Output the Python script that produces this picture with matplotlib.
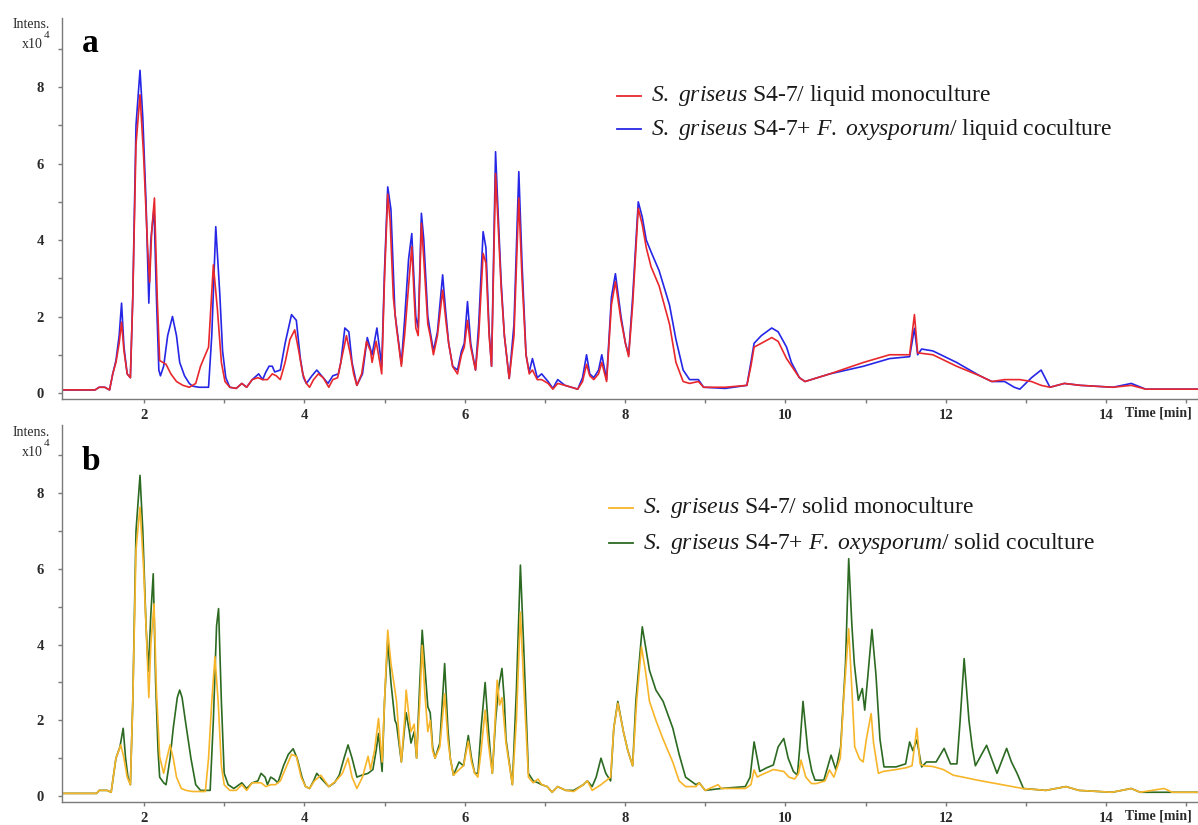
import matplotlib
matplotlib.use("Agg")
import matplotlib.pyplot as plt
from matplotlib.lines import Line2D

# ---------------------------------------------------------------- data
# Retention time [min] and intensity [x10^4] for each chromatogram trace.

# (a) liquid cultures
t_liq_mono = [0.95, 1.39, 1.44, 1.51, 1.57, 1.61, 1.65, 1.69, 1.72, 1.75, 1.79, 1.83, 1.86, 1.90, 1.95,
              1.995, 2.045, 2.07, 2.095, 2.13, 2.165, 2.195, 2.235, 2.275, 2.335, 2.405, 2.485, 2.565,
              2.645, 2.705, 2.765, 2.805, 2.865, 2.915, 2.965, 3.01, 3.07, 3.15, 3.22, 3.28, 3.35, 3.42,
              3.48, 3.54, 3.60, 3.65, 3.70, 3.76, 3.82, 3.88, 3.93, 3.98, 4.025, 4.065, 4.115, 4.175,
              4.235, 4.305, 4.355, 4.415, 4.475, 4.525, 4.575, 4.615, 4.655, 4.715, 4.775, 4.825, 4.845,
              4.895, 4.925, 4.965, 5.00, 5.04, 5.07, 5.11, 5.15, 5.21, 5.25, 5.30, 5.34, 5.37, 5.39,
              5.42, 5.46, 5.49, 5.54, 5.57, 5.61, 5.66, 5.725, 5.77, 5.80, 5.85, 5.91, 5.96, 5.995,
              6.035, 6.075, 6.135, 6.175, 6.23, 6.265, 6.305, 6.335, 6.385, 6.415, 6.455, 6.495, 6.555,
              6.615, 6.675, 6.715, 6.765, 6.805, 6.845, 6.905, 6.96, 7.04, 7.10, 7.16, 7.25, 7.41,
              7.47, 7.52, 7.56, 7.61, 7.67, 7.71, 7.77, 7.83, 7.88, 7.95, 8.005, 8.045, 8.095, 8.165,
              8.215, 8.265, 8.325, 8.425, 8.555, 8.635, 8.725, 8.805, 8.915, 8.98, 9.25, 9.52, 9.57,
              9.61, 9.70, 9.83, 9.91, 10.015, 10.175, 10.245, 10.555, 10.975, 11.30, 11.55, 11.61,
              11.65, 11.84, 12.135, 12.425, 12.575, 12.735, 12.925, 13.07, 13.19, 13.30, 13.48, 13.68,
              14.085, 14.315, 14.495, 15.2]
i_liq_mono = [0.08, 0.08, 0.15, 0.15, 0.08, 0.5, 0.8, 1.3, 1.85, 1.1, 0.5, 0.4, 2.5, 6.5, 7.8,
              6.2, 3.8, 2.9, 4.2, 5.1, 2.5, 0.85, 0.8, 0.75, 0.5, 0.3, 0.2, 0.15,
              0.25, 0.7, 1.0, 1.2, 3.35, 2.2, 0.8, 0.3, 0.15, 0.12, 0.25, 0.15, 0.35, 0.4,
              0.35, 0.35, 0.5, 0.45, 0.35, 0.8, 1.4, 1.65, 1.1, 0.5, 0.25, 0.15, 0.35, 0.5,
              0.4, 0.15, 0.35, 0.4, 1.0, 1.5, 1.0, 0.5, 0.2, 0.5, 1.35, 1.1, 0.8,
              1.35, 1.0, 0.5, 3.0, 5.2, 4.5, 2.5, 1.7, 0.7, 1.5, 2.8, 3.83, 2.5, 1.7,
              1.5, 4.44, 3.5, 1.8, 1.5, 1.0, 1.5, 2.69, 1.8, 1.3, 0.69, 0.5, 1.0, 1.2,
              1.9, 1.2, 0.6, 1.5, 3.65, 3.4, 1.5, 0.7, 5.74, 4.5, 2.75, 1.5, 0.38,
              1.5, 5.1, 3.0, 1.0, 0.5, 0.6, 0.35, 0.35, 0.25, 0.1, 0.25, 0.2, 0.1,
              0.3, 0.75, 0.45, 0.35, 0.5, 0.8, 0.3, 2.3, 2.91, 1.9, 1.3, 0.95, 2.3, 4.83,
              4.4, 3.8, 3.3, 2.8, 1.8, 0.8, 0.3, 0.25, 0.3, 0.15, 0.15, 0.2, 0.7,
              1.2, 1.3, 1.45, 1.35, 0.9, 0.4, 0.3, 0.5, 0.8, 1.0, 1.0, 2.05,
              1.05, 1.0, 0.7, 0.45, 0.3, 0.35, 0.35, 0.3, 0.2, 0.15, 0.25, 0.2,
              0.15, 0.2, 0.1, 0.1]

t_liq_co = [0.95, 1.39, 1.44, 1.51, 1.57, 1.61, 1.65, 1.69, 1.72, 1.75, 1.79, 1.83, 1.86, 1.90, 1.95,
            1.985, 2.025, 2.06, 2.085, 2.125, 2.155, 2.185, 2.205, 2.245, 2.295, 2.355, 2.405, 2.445,
            2.505, 2.565, 2.605, 2.685, 2.775, 2.805, 2.845, 2.895, 2.945, 2.98, 3.02, 3.07, 3.15,
            3.22, 3.28, 3.35, 3.43, 3.48, 3.52, 3.56, 3.60, 3.63, 3.70, 3.76, 3.84, 3.90, 3.95, 3.99,
            4.025, 4.095, 4.155, 4.215, 4.295, 4.355, 4.425, 4.455, 4.505, 4.555, 4.595, 4.655,
            4.725, 4.785, 4.845, 4.905, 4.965, 5.00, 5.04, 5.08, 5.13, 5.21, 5.25, 5.30, 5.34, 5.39,
            5.42, 5.46, 5.49, 5.54, 5.57, 5.61, 5.66, 5.725, 5.76, 5.80, 5.85, 5.91, 5.96, 5.995,
            6.035, 6.075, 6.135, 6.175, 6.23, 6.265, 6.305, 6.335, 6.385, 6.415, 6.455, 6.495,
            6.555, 6.615, 6.675, 6.715, 6.765, 6.805, 6.845, 6.905, 6.96, 7.04, 7.10, 7.16, 7.25,
            7.41, 7.47, 7.52, 7.56, 7.61, 7.67, 7.71, 7.77, 7.83, 7.88, 7.95, 8.005, 8.045, 8.095,
            8.165, 8.215, 8.265, 8.325, 8.425, 8.555, 8.635, 8.725, 8.805, 8.915, 8.98, 9.25, 9.52,
            9.57, 9.61, 9.70, 9.83, 9.91, 10.015, 10.075, 10.175, 10.245, 10.555, 10.975, 11.30,
            11.55, 11.61, 11.65, 11.70, 11.84, 12.135, 12.425, 12.575, 12.735, 12.855, 12.925,
            13.07, 13.19, 13.30, 13.48, 13.68, 14.085, 14.315, 14.495, 15.2]
i_liq_co = [0.08, 0.08, 0.15, 0.15, 0.08, 0.5, 0.85, 1.5, 2.35, 1.2, 0.5, 0.4, 2.5, 7.0, 8.44,
            7.2, 5.0, 2.35, 4.0, 4.83, 2.5, 0.6, 0.45, 0.7, 1.5, 2.0, 1.5, 0.8,
            0.45, 0.25, 0.18, 0.15, 0.15, 0.15, 1.5, 4.35, 2.6, 1.1, 0.4, 0.15, 0.12,
            0.25, 0.15, 0.35, 0.5, 0.35, 0.55, 0.7, 0.7, 0.55, 0.6, 1.3, 2.05, 1.9, 0.9, 0.4,
            0.25, 0.45, 0.6, 0.45, 0.25, 0.45, 0.5, 0.8, 1.7, 1.6, 0.8, 0.2,
            0.5, 1.45, 1.0, 1.7, 0.7, 3.2, 5.39, 4.8, 2.08, 0.77, 1.9, 3.5, 4.17, 2.0,
            1.7, 4.7, 4.0, 2.0, 1.6, 1.1, 1.6, 3.09, 2.2, 1.3, 0.7, 0.6, 1.1, 1.3,
            2.39, 1.3, 0.6, 1.8, 4.22, 3.8, 1.6, 0.7, 6.31, 4.8, 2.9, 1.5,
            0.38, 1.8, 5.79, 3.4, 1.0, 0.55, 0.9, 0.4, 0.5, 0.3, 0.12, 0.35, 0.2,
            0.1, 0.4, 1.0, 0.5, 0.4, 0.6, 1.0, 0.35, 2.5, 3.12, 2.0, 1.3, 1.0, 2.5,
            5.0, 4.6, 4.0, 3.69, 3.2, 2.3, 1.4, 0.6, 0.35, 0.35, 0.15, 0.12, 0.2,
            0.8, 1.3, 1.5, 1.7, 1.6, 1.2, 0.8, 0.4, 0.3, 0.5, 0.7, 0.9,
            0.95, 1.69, 1.0, 1.15, 1.1, 0.8, 0.45, 0.3, 0.3, 0.15, 0.1,
            0.4, 0.6, 0.15, 0.25, 0.2, 0.15, 0.25, 0.1, 0.1]

# (b) solid cultures
t_sol_mono = [0.95, 1.41, 1.44, 1.54, 1.59, 1.65, 1.71, 1.75, 1.79, 1.83, 1.86, 1.90, 1.95, 1.995,
              2.035, 2.06, 2.085, 2.125, 2.155, 2.195, 2.245, 2.285, 2.325, 2.365, 2.405, 2.465,
              2.525, 2.605, 2.685, 2.765, 2.805, 2.845, 2.885, 2.925, 2.965, 3.00, 3.07, 3.15, 3.22,
              3.28, 3.35, 3.46, 3.52, 3.58, 3.64, 3.70, 3.78, 3.84, 3.90, 3.96, 4.015, 4.065, 4.125,
              4.205, 4.255, 4.305, 4.395, 4.475, 4.545, 4.595, 4.655, 4.725, 4.795, 4.825, 4.875,
              4.925, 4.97, 5.00, 5.04, 5.08, 5.13, 5.15, 5.18, 5.21, 5.25, 5.27, 5.31, 5.33, 5.37,
              5.40, 5.44, 5.47, 5.50, 5.54, 5.57, 5.60, 5.63, 5.69, 5.75, 5.79, 5.82, 5.86, 5.93,
              5.985, 6.045, 6.085, 6.125, 6.165, 6.205, 6.255, 6.295, 6.325, 6.345, 6.375, 6.405,
              6.435, 6.465, 6.515, 6.595, 6.645, 6.695, 6.735, 6.795, 6.855, 6.915, 6.96, 7.03,
              7.09, 7.16, 7.26, 7.36, 7.48, 7.53, 7.59, 7.70, 7.82, 7.86, 7.91, 7.98, 8.035, 8.095,
              8.145, 8.205, 8.255, 8.305, 8.385, 8.475, 8.595, 8.675, 8.755, 8.885, 8.925, 9.00,
              9.16, 9.20, 9.50, 9.57, 9.61, 9.65, 9.69, 9.85, 9.98, 10.045, 10.115, 10.165, 10.195,
              10.255, 10.325, 10.385, 10.495, 10.55, 10.605, 10.685, 10.725, 10.79, 10.825,
              10.865, 10.925, 10.97, 11.01, 11.07, 11.10, 11.16, 11.22, 11.38, 11.51, 11.58, 11.64,
              11.68, 11.72, 11.84, 11.97, 12.095, 12.215, 12.395, 12.625, 12.755, 12.96, 13.25,
              13.50, 13.66, 14.075, 14.315, 14.425, 14.725, 14.825, 15.2]
i_sol_mono = [0.07, 0.07, 0.15, 0.15, 0.1, 1.0, 1.35, 1.0, 0.5, 0.3, 2.5, 6.5, 7.63, 6.0,
              4.0, 2.6, 4.0, 5.08, 2.8, 1.04, 0.6, 1.0, 1.35, 1.0, 0.5, 0.2,
              0.15, 0.12, 0.12, 0.12, 1.0, 2.5, 3.68, 2.5, 0.8, 0.3, 0.15, 0.15, 0.3,
              0.15, 0.35, 0.35, 0.25, 0.3, 0.3, 0.4, 0.8, 1.1, 1.05, 0.5, 0.25, 0.2, 0.4,
              0.55, 0.4, 0.25, 0.4, 0.6, 1.0, 0.5, 0.2, 0.5, 1.05, 0.7, 1.2,
              2.05, 0.9, 2.5, 4.38, 3.5, 2.8, 2.5, 1.6, 0.9, 2.0, 2.8, 2.0, 1.7, 1.9,
              1.0, 2.5, 3.98, 2.8, 1.7, 2.0, 1.2, 1.0, 1.3, 2.7, 1.5, 1.0, 0.55, 0.7,
              0.8, 1.45, 0.9, 0.6, 0.5, 1.2, 2.27, 1.4, 0.9, 0.6, 1.8, 3.06,
              2.4, 2.6, 1.4, 0.3, 2.0, 4.86, 3.0, 0.5, 0.35, 0.45, 0.3, 0.25,
              0.1, 0.25, 0.15, 0.12, 0.3, 0.4, 0.15, 0.3, 0.5, 1.8, 2.45, 1.7, 1.2, 0.8,
              2.5, 3.94, 3.3, 2.5, 2.0, 1.5, 0.9, 0.4, 0.25, 0.25, 0.35, 0.15,
              0.3, 0.2, 0.2, 0.3, 0.69, 0.5, 0.55, 0.7, 0.65, 0.5, 0.45, 0.6, 0.95,
              0.5, 0.33, 0.33, 0.4, 0.69, 0.5, 1.0, 2.5, 4.42, 3.0,
              1.3, 0.98, 0.9, 1.5, 2.18, 1.4, 0.6, 0.65, 0.7, 0.75, 0.8, 1.79,
              0.85, 0.8, 0.78, 0.7, 0.55, 0.5, 0.42, 0.33, 0.28, 0.2, 0.15,
              0.25, 0.15, 0.1, 0.2, 0.1, 0.2, 0.1, 0.1]

t_sol_co = [0.95, 1.41, 1.44, 1.54, 1.59, 1.65, 1.70, 1.74, 1.77, 1.80, 1.83, 1.86, 1.90, 1.95,
            1.985, 2.025, 2.055, 2.085, 2.115, 2.145, 2.175, 2.195, 2.245, 2.275, 2.325, 2.365,
            2.415, 2.445, 2.475, 2.515, 2.585, 2.645, 2.705, 2.825, 2.865, 2.905, 2.93, 2.965,
            3.00, 3.05, 3.12, 3.22, 3.28, 3.35, 3.42, 3.46, 3.51, 3.54, 3.58, 3.62, 3.67, 3.74,
            3.80, 3.86, 3.91, 3.97, 4.015, 4.065, 4.115, 4.155, 4.215, 4.305, 4.375, 4.435, 4.495,
            4.545, 4.595, 4.655, 4.715, 4.795, 4.855, 4.895, 4.925, 4.97, 5.00, 5.04, 5.08, 5.13,
            5.15, 5.21, 5.25, 5.27, 5.31, 5.33, 5.37, 5.40, 5.44, 5.47, 5.50, 5.54, 5.57, 5.60,
            5.63, 5.69, 5.75, 5.79, 5.82, 5.86, 5.93, 5.985, 6.045, 6.085, 6.125, 6.165, 6.205,
            6.255, 6.295, 6.325, 6.345, 6.385, 6.425, 6.465, 6.495, 6.515, 6.595, 6.645, 6.695,
            6.735, 6.795, 6.855, 6.915, 6.96, 7.03, 7.09, 7.16, 7.26, 7.36, 7.48, 7.53, 7.59, 7.64,
            7.70, 7.76, 7.82, 7.86, 7.91, 7.98, 8.035, 8.095, 8.135, 8.215, 8.305, 8.385, 8.475,
            8.595, 8.675, 8.755, 8.885, 8.925, 9.00, 9.20, 9.50, 9.56, 9.61, 9.68, 9.77,
            9.85, 9.91, 9.98, 10.035, 10.10, 10.15, 10.18, 10.22, 10.28, 10.33, 10.37,
            10.48, 10.57, 10.63, 10.69, 10.75, 10.79, 10.83, 10.86, 10.91,
            10.96, 10.99, 11.03, 11.08, 11.13, 11.18, 11.23, 11.38, 11.50, 11.55, 11.59, 11.64,
            11.70, 11.76, 11.88, 11.98, 12.06, 12.14, 12.18, 12.23, 12.29, 12.33, 12.37,
            12.51, 12.57, 12.64, 12.76, 12.82, 12.89, 12.97, 13.25, 13.50, 13.66, 14.075,
            14.315, 14.425, 14.725, 15.2]
i_sol_co = [0.07, 0.07, 0.15, 0.15, 0.1, 1.0, 1.3, 1.79, 1.0, 0.5, 0.3, 2.5, 7.0, 8.47,
            7.0, 4.5, 3.3, 4.8, 5.87, 3.0, 1.2, 0.5, 0.35, 0.3, 1.0, 1.8,
            2.6, 2.8, 2.6, 2.0, 1.0, 0.3, 0.15, 0.15, 2.0, 4.5, 4.95, 2.5,
            0.6, 0.3, 0.2, 0.35, 0.2, 0.35, 0.4, 0.6, 0.5, 0.3, 0.5, 0.45, 0.35, 0.8,
            1.1, 1.25, 1.0, 0.5, 0.25, 0.2, 0.4, 0.6, 0.45, 0.25, 0.35, 0.55, 1.0,
            1.35, 1.0, 0.5, 0.55, 0.6, 0.7, 1.2, 1.65, 0.65, 2.5, 4.12, 3.0, 2.0,
            1.9, 0.9, 1.8, 2.2, 1.7, 1.4, 1.7, 1.0, 3.0, 4.38, 3.5, 2.36, 2.2, 1.3,
            1.0, 1.4, 3.5, 1.8, 1.0, 0.55, 0.9, 0.8, 1.6, 1.0, 0.6, 0.6, 1.8,
            3.0, 1.8, 1.0, 0.6, 2.0, 2.9, 3.37, 2.5, 1.5, 0.3, 2.8, 6.1,
            4.0, 0.6, 0.4, 0.35, 0.3, 0.25, 0.1, 0.25, 0.15, 0.15, 0.3, 0.4, 0.25, 0.5,
            1.0, 0.6, 0.4, 1.8, 2.5, 1.7, 1.2, 0.8, 2.5, 4.47, 3.32, 2.8, 2.5,
            1.8, 1.1, 0.5, 0.3, 0.35, 0.15, 0.2, 0.25, 0.5, 1.43, 0.65, 0.75,
            0.82, 1.3, 1.52, 1.0, 0.65, 0.55, 1.3, 2.5, 1.2, 0.66, 0.42,
            0.42, 1.08, 0.7, 1.3, 3.5, 6.27, 4.5, 3.5, 2.53,
            2.84, 2.27, 3.2, 4.4, 3.2, 1.5, 0.77, 0.77, 0.85, 1.43, 1.2, 1.48,
            0.77, 0.9, 0.9, 1.26, 0.85, 0.85, 2.0, 3.63, 2.0, 1.3, 0.8,
            1.34, 1.0, 0.6, 1.26, 0.9, 0.6, 0.2, 0.15, 0.25, 0.15, 0.1,
            0.2, 0.1, 0.1, 0.1]

x_major = [2, 4, 6, 8, 10, 12, 14]
y_major = [0, 2, 4, 6, 8]

# ---------------------------------------------------------------- style
W, H = 1198, 825
SERIF = ["Liberation Serif", "DejaVu Serif"]
plt.rcParams["font.family"] = SERIF
plt.rcParams["mathtext.fontset"] = "custom"
plt.rcParams["mathtext.rm"] = "Liberation Serif"
plt.rcParams["mathtext.it"] = "Liberation Serif:italic"

RED = "#e8282c"
BLUE = "#2626e6"
ORANGE = "#f7b52a"
GREEN = "#2c6a22"
AXIS = "#7a7a7a"
TICKTXT = "#2a2a2a"

fig = plt.figure(figsize=(W / 100, H / 100), dpi=100)


def px_x(x):
    return x / W


def px_y(y):
    return 1 - y / H


def make_axes(top_px, bottom_px):
    left = px_x(62)
    ax = fig.add_axes([left, px_y(bottom_px), 1 - left, (bottom_px - top_px) / H])
    ax.set_xlim(0.977, 15.147)
    ax.set_ylim(-0.165, 9.8)
    for side in ("top", "right"):
        ax.spines[side].set_visible(False)
    for side in ("left", "bottom"):
        ax.spines[side].set_color(AXIS)
        ax.spines[side].set_linewidth(1.0)
    ax.set_xticks(x_major)
    ax.set_xticks([3, 5, 7, 9, 11, 13, 15], minor=True)
    ax.set_yticks(y_major)
    ax.set_yticks([1, 3, 5, 7, 9], minor=True)
    ax.tick_params(which="both", direction="out", length=3, width=1, color=AXIS)
    ax.tick_params(axis="x", which="major", pad=4, labelsize=10.5, labelcolor=TICKTXT)
    ax.tick_params(axis="y", which="major", pad=10, labelsize=10.5, labelcolor=TICKTXT)
    for lab in ax.get_xticklabels() + ax.get_yticklabels():
        lab.set_fontweight("bold")
    ax.patch.set_alpha(0)
    return ax


def panel_texts(letter, intens_y, letter_y, axis_y):
    fig.text(px_x(50), px_y(intens_y), "Intens.", ha="right", va="center",
             fontsize=10, color=TICKTXT)
    fig.text(px_x(43), px_y(intens_y + 21), "x10", ha="right", va="center",
             fontsize=10, color=TICKTXT)
    fig.text(px_x(43.5), px_y(intens_y + 12), "4", ha="left", va="center",
             fontsize=8, color=TICKTXT)
    fig.text(px_x(82), px_y(letter_y), letter, ha="left", va="center",
             fontsize=24, fontweight="bold", color="black")
    fig.text(px_x(1192), px_y(axis_y + 14), "Time [min]", ha="right", va="center",
             fontsize=10, fontweight="bold", color=TICKTXT)


def legend_rows(rows, x0, y0, dy):
    for k, (color, label) in enumerate(rows):
        y = y0 + k * dy
        fig.add_artist(Line2D([px_x(x0), px_x(x0 + 24)], [px_y(y), px_y(y)],
                              color=color, lw=1.3, transform=fig.transFigure))
        fig.text(px_x(x0 + 34), px_y(y), label, ha="left", va="center",
                 fontsize=17, color="#1a1a1a")


# ---------------------------------------------------------------- panel a
ax_a = make_axes(18.3, 399.3)
ax_a.plot(t_liq_co, i_liq_co, color=BLUE, lw=1.2)
ax_a.plot(t_liq_mono, i_liq_mono, color=RED, lw=1.2)
panel_texts("a", 24, 44, 399.3)
legend_rows([(RED, r"$\mathit{S.}$ $\mathit{griseus}$ S4-7/ liquid monoculture"),
             (BLUE, r"$\mathit{S.}$ $\mathit{griseus}$ S4-7+ $\mathit{F.}$ $\mathit{oxysporum}$/ liquid coculture")],
            617, 96, 33)

# ---------------------------------------------------------------- panel b
ax_b = make_axes(425, 802.3)
ax_b.plot(t_sol_co, i_sol_co, color=GREEN, lw=1.2)
ax_b.plot(t_sol_mono, i_sol_mono, color=ORANGE, lw=1.2)
panel_texts("b", 432, 461, 802.3)
legend_rows([(ORANGE, r"$\mathit{S.}$ $\mathit{griseus}$ S4-7/ solid monoculture"),
             (GREEN, r"$\mathit{S.}$ $\mathit{griseus}$ S4-7+ $\mathit{F.}$ $\mathit{oxysporum}$/ solid coculture")],
            609, 508, 35)

fig.savefig("out.png", dpi=100)
